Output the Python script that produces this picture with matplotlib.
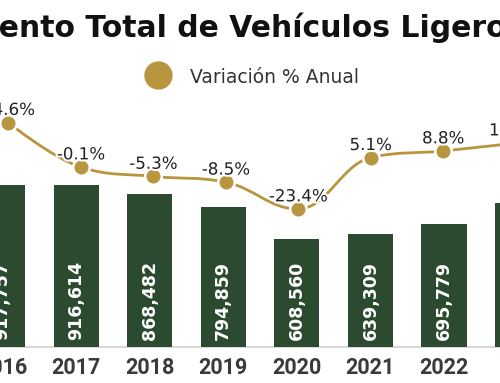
import matplotlib
matplotlib.use('Agg')
import matplotlib.pyplot as plt
import matplotlib.patheffects as pe
from matplotlib.path import Path
from matplotlib.patches import PathPatch

# datos
years = ['2016', '2017', '2018', '2019', '2020', '2021', '2022', '2023']
unidades = [917757, 916614, 868482, 794859, 608560, 639309, 695779, 815000]
variacion = [24.6, -0.1, -5.3, -8.5, -23.4, 5.1, 8.8, 13.2]

titulo = 'Financiamiento Total de Vehículos Ligeros'
leyenda = 'Variación % Anual'

verde = '#2c4a2f'
dorado = '#b8953f'

plt.rcParams['font.family'] = ['DejaVu Sans']


def spline_path(xs, ys, smoothing=1.5):
    # curva suave tipo "spline" (puntos de control como en Highcharts)
    n = len(xs)
    left = [None] * n
    right = [None] * n
    d = smoothing + 1
    for i in range(1, n - 1):
        lx = (smoothing * xs[i] + xs[i - 1]) / d
        ly = (smoothing * ys[i] + ys[i - 1]) / d
        rx = (smoothing * xs[i] + xs[i + 1]) / d
        ry = (smoothing * ys[i] + ys[i + 1]) / d
        corr = (ry - ly) * (rx - xs[i]) / (rx - lx) + ys[i] - ry
        ly += corr
        ry += corr
        if ly > ys[i - 1] and ly > ys[i]:
            ly = max(ys[i - 1], ys[i]); ry = 2 * ys[i] - ly
        elif ly < ys[i - 1] and ly < ys[i]:
            ly = min(ys[i - 1], ys[i]); ry = 2 * ys[i] - ly
        if ry > ys[i + 1] and ry > ys[i]:
            ry = max(ys[i + 1], ys[i]); ly = 2 * ys[i] - ry
        elif ry < ys[i + 1] and ry < ys[i]:
            ry = min(ys[i + 1], ys[i]); ly = 2 * ys[i] - ry
        left[i] = (lx, ly)
        right[i] = (rx, ry)
    verts = [(xs[0], ys[0])]
    codes = [Path.MOVETO]
    for i in range(1, n):
        c1 = right[i - 1] or (xs[i - 1], ys[i - 1])
        c2 = left[i] or (xs[i], ys[i])
        verts += [c1, c2, (xs[i], ys[i])]
        codes += [Path.CURVE4] * 3
    return Path(verts, codes)


W, H = 500, 383
base = 347  # linea base en px desde arriba
fig = plt.figure(figsize=(W / 100, H / 100), dpi=100)
rect = [0, (H - base) / H, 1, base / H]

# barras
ax = fig.add_axes(rect)
x = list(range(len(years)))
ax.axhline(0, color='#d9d9d9', lw=1.5, zorder=1, clip_on=False)
ax.bar(x, unidades, width=0.612, color=verde, zorder=2)
ax.set_xticks(x, years)
ax.set_xlim(-0.034, 6.761)   # despues de set_xticks, que amplia los limites
ax.set_ylim(0, base / 1.767e-4)
ax.tick_params(axis='x', length=0, pad=7.5, labelsize=15.5, labelcolor='#3a3a3a')
for lab in ax.get_xticklabels():
    lab.set_fontweight('bold')
    lab.set_family(['Roboto', 'DejaVu Sans'])
ax.set_yticks([])
for s in ax.spines.values():
    s.set_visible(False)
for i, v in enumerate(unidades):
    ax.annotate(f'{v:,}', (i, 0), xytext=(0, 5), textcoords='offset points',
                rotation=90, ha='center', va='bottom', color='white',
                fontsize=12.5, fontweight='bold', zorder=3,
                annotation_clip=False)

# linea de variacion
ax2 = fig.add_axes(rect, label='linea')
ax2.patch.set_visible(False)
ax2.axis('off')
ax2.set_xlim(-0.1146, 6.787)
ax2.set_ylim(-100.03, 92.64)
ax2.add_patch(PathPatch(spline_path(x, variacion), fill=False,
                        edgecolor=dorado, lw=2, zorder=3))
ax2.plot(x, variacion, 'o', ms=11.9, mfc=dorado, mec='white', mew=1.8,
         ls='none', zorder=4)
for i, v in enumerate(variacion):
    ax2.annotate(f'{v:.1f}%', (i, v), xytext=(0, 5.5), textcoords='offset points',
                 ha='center', va='baseline', fontsize=12, color='#222222',
                 zorder=5, annotation_clip=False,
                 path_effects=[pe.withStroke(linewidth=3, foreground='white')])

# titulo y leyenda
ov = fig.add_axes([0, 0, 1, 1], label='over')
ov.axis('off')
ov.set_xlim(0, W)
ov.set_ylim(H, 0)
renderer = fig.canvas.get_renderer()
tmp = ov.text(0, 36.7, 'Financiami', fontsize=21.5, fontweight='bold')
w = tmp.get_window_extent(renderer).width
tmp.remove()
ov.text(-w - 1, 36.7, titulo, fontsize=21.5, fontweight='bold',
        color='#111111', va='baseline')
ov.plot(158, 75, 'o', ms=19.4, color=dorado)
ov.text(190, 83, leyenda, fontsize=13.5, color='#333333', va='baseline')

fig.savefig('out.png', dpi=100)
